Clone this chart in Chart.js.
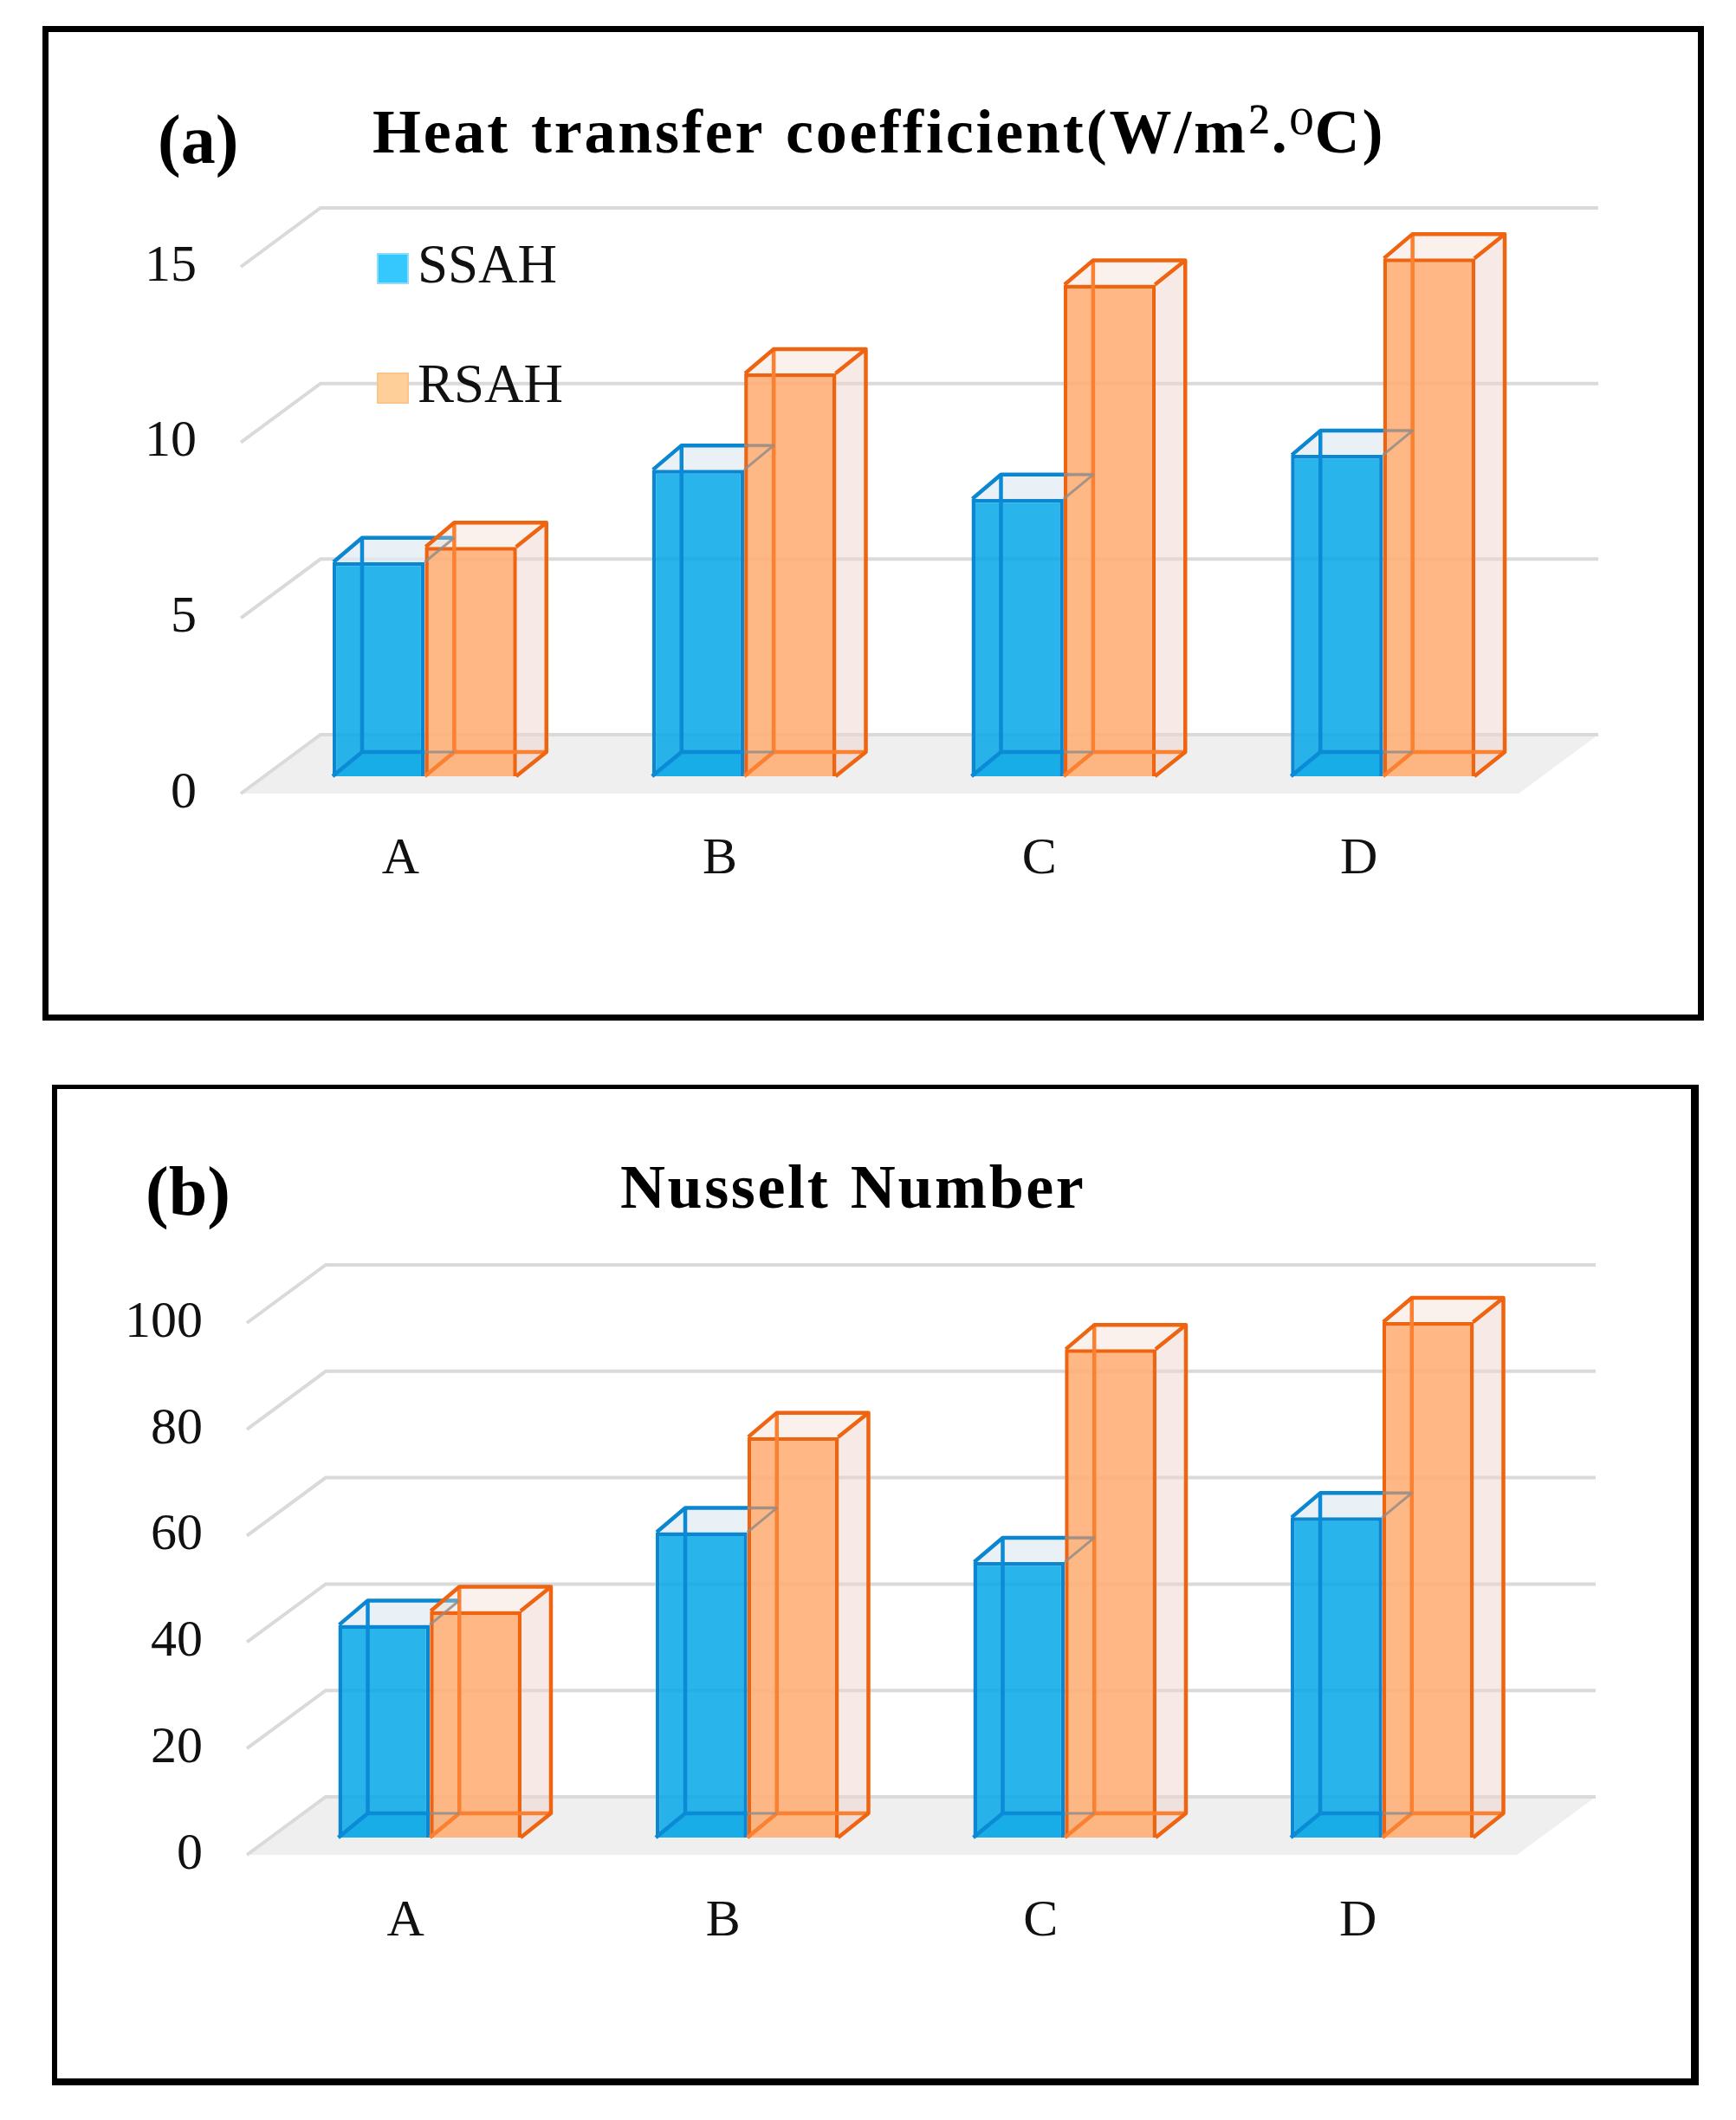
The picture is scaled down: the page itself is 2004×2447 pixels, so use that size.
<!DOCTYPE html>
<html>
<head>
<meta charset="utf-8">
<script src="https://cdn.jsdelivr.net/npm/chart.js@4"></script>
<style>
html,body{margin:0;padding:0;background:#fff;width:2004px;height:2447px;overflow:hidden}
.frame{position:absolute;box-sizing:border-box;border-style:solid;border-color:#000;background:#fff}
canvas{position:absolute;left:0}
</style>
</head>
<body>
<div class="frame" style="left:49px;top:30px;width:1918px;height:1148px;border-width:7px"></div>
<div class="frame" style="left:60px;top:1252px;width:1901px;height:1155px;border-width:5px 9px 8px 6px"></div>
<canvas id="chartA" width="2004" height="1215" style="top:0"></canvas>
<canvas id="chartB" width="2004" height="1232" style="top:1215px"></canvas>
<script>
const categories = ['A', 'B', 'C', 'D'];
const seriesNames = ['SSAH', 'RSAH'];
const heatSSAH = [6.1, 8.73, 7.9, 9.15];
const heatRSAH = [6.53, 11.47, 14.0, 14.75];
const nusseltSSAH = [40.0, 57.4, 51.8, 60.2];
const nusseltRSAH = [42.6, 75.3, 91.8, 96.9];

const FONT = '"Liberation Serif","Times New Roman",serif';

function backFaces(chart, idx, o) {
  const c = chart.ctx, st = chart.data.datasets[idx].box3d, dx = o.depthDx, dy = o.depthDy;
  chart.getDatasetMeta(idx).data.forEach(el => {
    const l = el.x - el.width / 2, r = el.x + el.width / 2, t = el.y, b = el.base;
    c.fillStyle = st.bottom;
    c.beginPath(); c.moveTo(l, b); c.lineTo(l + dx, b - dy); c.lineTo(r + dx, b - dy); c.lineTo(r, b); c.closePath(); c.fill();
    c.fillStyle = st.side;
    c.beginPath(); c.moveTo(r, t); c.lineTo(r + dx, t - dy); c.lineTo(r + dx, b - dy); c.lineTo(r, b); c.closePath(); c.fill();
    c.fillStyle = st.top;
    c.beginPath(); c.moveTo(l, t); c.lineTo(l + dx, t - dy); c.lineTo(r + dx, t - dy); c.lineTo(r, t); c.closePath(); c.fill();
  });
}
function frontEdges(chart, idx, o) {
  const c = chart.ctx, st = chart.data.datasets[idx].box3d, dx = o.depthDx, dy = o.depthDy;
  c.lineJoin = 'round';
  chart.getDatasetMeta(idx).data.forEach(el => {
    const l = el.x - el.width / 2, r = el.x + el.width / 2, t = el.y, b = el.base;
    c.strokeStyle = st.back; c.lineWidth = 4.5;
    c.beginPath();
    c.moveTo(l + dx, t - dy); c.lineTo(l + dx, b - dy); c.lineTo(st.openRight ? r : r + dx, b - dy);
    c.moveTo(l, b); c.lineTo(l + dx, b - dy);
    c.stroke();
    c.strokeStyle = st.edge; c.lineWidth = 4.5;
    c.beginPath();
    c.moveTo(l + 1, t); c.lineTo(l + dx, t - dy); c.lineTo(r + dx, t - dy);
    if (!st.openRight) {
      c.lineTo(r - 1, t);
      c.moveTo(r + dx, t - dy); c.lineTo(r + dx, b - dy); c.lineTo(r - 1, b);
    }
    c.stroke();
  });
}

const decor = {
  id: 'decor',
  beforeDatasetsDraw(chart, _a, o) {
    const c = chart.ctx, y = chart.scales.y, a = chart.chartArea;
    c.save();
    const y0 = y.getPixelForValue(0);
    c.fillStyle = '#efefef';
    c.beginPath();
    c.moveTo(a.left, y0); c.lineTo(a.left + o.wallDx, y0 - o.wallDy);
    c.lineTo(a.right + o.wallDx, y0 - o.wallDy); c.lineTo(a.right, y0);
    c.closePath(); c.fill();
    c.strokeStyle = '#dadada'; c.lineWidth = 4;
    y.ticks.forEach(t => {
      const p = y.getPixelForValue(t.value);
      c.beginPath();
      c.moveTo(a.left, p); c.lineTo(a.left + o.wallDx, p - o.wallDy);
      c.lineTo(a.right + o.wallDx, p - o.wallDy);
      c.stroke();
    });
    c.restore();
  },
  // the chart paints its first series last; SSAH has to lie under RSAH,
  // so SSAH is painted just ahead of RSAH and its own turn is skipped
  beforeDatasetDraw(chart, args, o) {
    if (args.index === 0) return false;
    const c = chart.ctx;
    c.save();
    c.translate(o.barDx, -o.barDy);
    backFaces(chart, 0, o);
    chart.getDatasetMeta(0).controller.draw();
    frontEdges(chart, 0, o);
    backFaces(chart, 1, o);
  },
  afterDatasetDraw(chart, args, o) {
    const c = chart.ctx;
    frontEdges(chart, 1, o);
    c.strokeStyle = 'rgba(150,140,135,0.85)'; c.lineWidth = 3;
    const tall = chart.getDatasetMeta(1).data;
    chart.getDatasetMeta(0).data.forEach((el, i) => {
      const r = el.x + el.width / 2, t = el.y, b = el.base;
      c.beginPath();
      c.moveTo(r, t); c.lineTo(r + o.depthDx, t - o.depthDy);
      if (tall[i].y < t - o.depthDy) c.lineTo(r, t - o.depthDy);
      c.moveTo(r, b - o.depthDy); c.lineTo(r + o.depthDx, b - o.depthDy);
      c.stroke();
    });
    c.restore();
  },
  afterDatasetsDraw(chart, _a, o) {
    const c = chart.ctx;
    c.save();
    c.fillStyle = '#000'; c.textBaseline = 'alphabetic'; c.textAlign = 'left';
    let x = o.titleX;
    o.title.forEach(run => {
      c.font = run.font || ('bold ' + o.titleSize + 'px ' + FONT);
      c.letterSpacing = (run.font ? 0 : o.titleSpacing) + 'px';
      c.wordSpacing = o.wordSpacing + 'px';
      c.fillText(run.t, x, o.titleY + (run.dy || 0));
      x += run.adv || c.measureText(run.t).width;
    });
    c.letterSpacing = '0px'; c.wordSpacing = '0px';
    c.textBaseline = 'middle';
    c.font = 'bold ' + o.panelSize + 'px ' + FONT;
    c.fillText(o.panel, o.panelX, o.panelY);
    if (o.legend) {
      c.font = o.legend.size + 'px ' + FONT;
      chart.data.datasets.forEach((d, i) => {
        const yy = o.legend.y[i];
        c.fillStyle = d.box3d.swatch; c.strokeStyle = d.box3d.swatchEdge; c.lineWidth = 2;
        c.fillRect(o.legend.x, yy - 17, 35, 34);
        c.strokeRect(o.legend.x, yy - 17, 35, 34);
        c.fillStyle = '#111';
        c.fillText(d.label, o.legend.textX, yy - 1);
      });
    }
    c.restore();
  }
};

const blueStyle = { bottom: 'rgba(10,150,215,0.4)', side: 'rgba(235,242,247,0.4)', top: 'rgba(226,236,243,0.75)', back: '#0b8ad6', edge: '#0b86d0', openRight: true, swatch: '#35c8ff', swatchEdge: '#8fdcf8' };
const orangeStyle = { bottom: 'rgba(240,200,180,0.3)', side: 'rgba(239,211,203,0.5)', top: 'rgba(242,215,200,0.35)', back: '#fb8030', edge: '#ee6410', openRight: false, swatch: '#ffcf9a', swatchEdge: '#fbc488' };

function build(id, s1, s2, yMax, step, geo) {
  new Chart(document.getElementById(id), {
    type: 'bar',
    plugins: [decor],
    data: {
      labels: categories,
      datasets: [
        { label: seriesNames[0], data: s1, clip: false, backgroundColor: 'rgba(4,168,232,0.85)', borderColor: '#0b86d0', borderWidth: 4.5, box3d: blueStyle },
        { label: seriesNames[1], data: s2, clip: false, backgroundColor: 'rgba(255,174,116,0.88)', borderColor: '#ee6410', borderWidth: 4.5, box3d: orangeStyle }
      ]
    },
    options: {
      responsive: false, animation: false, devicePixelRatio: 1,
      layout: { padding: { left: geo.left - geo.axisW, top: geo.top, right: 2004 - geo.right, bottom: geo.canvasH - geo.bottom - geo.axisH } },
      datasets: { bar: { barPercentage: 1, categoryPercentage: geo.cat } },
      plugins: { legend: { display: false }, title: { display: false }, tooltip: { enabled: false }, decor: geo.decor },
      scales: {
        x: {
          grid: { display: false }, border: { display: false },
          ticks: { color: '#111', padding: geo.xPad, font: { family: FONT, size: geo.tick } },
          afterFit(s) { s.height = geo.axisH; }
        },
        y: {
          min: 0, max: yMax,
          grid: { display: false, drawTicks: false }, border: { display: false },
          ticks: { stepSize: step, color: '#111', padding: geo.yPad, font: { family: FONT, size: geo.tick } },
          afterFit(s) { s.width = geo.axisW; }
        }
      }
    }
  });
}

build('chartA', heatSSAH, heatRSAH, 15, 5, {
  left: 278, right: 1753, top: 308, bottom: 916, canvasH: 1215, axisW: 200, axisH: 140,
  cat: 0.577, tick: 60, xPad: 32, yPad: 51,
  decor: { wallDx: 92, wallDy: 68, barDx: 28, barDy: 20, depthDx: 34, depthDy: 28,
    title: [
      { t: 'Heat transfer coefficient(W/m' },
      { t: '²', font: '82px ' + FONT, adv: 27 },
      { t: '.' },
      { t: '⁰', font: '70px "DejaVu Serif",serif', dy: 2, adv: 29 },
      { t: 'C)' }
    ],
    titleSize: 72, titleSpacing: 2.8, wordSpacing: 3, titleX: 430, titleY: 176,
    panel: '(a)', panelSize: 80, panelX: 182, panelY: 167,
    legend: { x: 436, textX: 482, y: [310, 448], size: 63 } }
});
build('chartB', nusseltSSAH, nusseltRSAH, 100, 20, {
  left: 285, right: 1751, top: 312, bottom: 926, canvasH: 1232, axisW: 200, axisH: 140,
  cat: 0.577, tick: 60, xPad: 33, yPad: 51,
  decor: { wallDx: 91, wallDy: 67, barDx: 28, barDy: 20, depthDx: 34, depthDy: 28,
    title: [{ t: 'Nusselt Number' }],
    titleSize: 72, titleSpacing: 2.6, wordSpacing: 3, titleX: 716, titleY: 179,
    panel: '(b)', panelSize: 80, panelX: 168, panelY: 166 }
});
</script>
</body>
</html>
